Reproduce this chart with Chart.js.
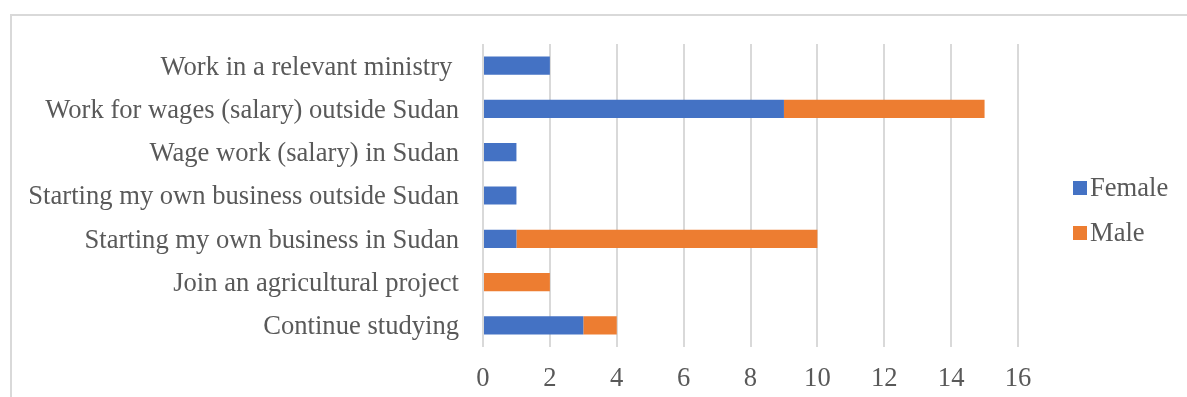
<!DOCTYPE html>
<html>
<head>
<meta charset="utf-8">
<script src="https://cdn.jsdelivr.net/npm/chart.js@4"></script>
<style>
    html, body { margin: 0; padding: 0; background: #fff; }
    .wrap { position: relative; width: 1187px; height: 397px; overflow: hidden; }
    .frame { position: absolute; left: 10px; top: 14px; width: 1200px; height: 400px; border: 2px solid #d9d9d9; box-sizing: border-box; }
    canvas { position: absolute; left: 0; top: 0; }
</style>
</head>
<body>
<div class="wrap">
    <div class="frame"></div>
    <canvas id="bar-chart" width="1187" height="397"></canvas>
</div>
<script>
const categories = [
    "Work in a relevant ministry ",
    "Work for wages (salary) outside Sudan",
    "Wage work (salary) in Sudan",
    "Starting my own business outside Sudan",
    "Starting my own business in Sudan",
    "Join an agricultural project",
    "Continue studying",
];
const female = [2, 9, 1, 1, 1, 0, 3];
const male = [0, 6, 0, 0, 9, 2, 1];
const xTicks = [0, 2, 4, 6, 8, 10, 12, 14, 16];

const textColor = "#595959";
const fontFamily = "'Liberation Serif', 'Times New Roman', serif";
const fontSize = 26.6;

// legend on the right, drawn from the datasets
const sideLegend = {
    id: "sideLegend",
    afterDraw(chart) {
        const ctx = chart.ctx;
        const x = chart.chartArea.right + 55;
        ctx.save();
        ctx.font = fontSize + "px " + fontFamily;
        ctx.textBaseline = "middle";
        ctx.textAlign = "left";
        chart.data.datasets.forEach((ds, i) => {
            const cy = 188 + i * 45;
            ctx.fillStyle = ds.backgroundColor;
            ctx.fillRect(x, cy - 7, 14, 14);
            ctx.fillStyle = textColor;
            ctx.fillText(ds.label, x + 17, cy + 1);
        });
        ctx.restore();
    },
};

document.addEventListener("DOMContentLoaded", function () {
    const ctx = document.getElementById("bar-chart").getContext("2d");

    new Chart(ctx, {
        type: "bar",
        data: {
            labels: categories,
            datasets: [
                { label: "Female", data: female, backgroundColor: "#4472C4" },
                { label: "Male", data: male, backgroundColor: "#ED7D31" },
            ],
        },
        options: {
            indexAxis: "y",
            responsive: false,
            animation: false,
            categoryPercentage: 0.42,
            barPercentage: 1,
            layout: { padding: { top: 44, right: 169, left: 0, bottom: 0 } },
            plugins: {
                legend: { display: false },
                tooltip: { enabled: false },
            },
            scales: {
                x: {
                    stacked: true,
                    min: 0,
                    max: 16,
                    afterBuildTicks(scale) {
                        scale.ticks = xTicks.map((v) => ({ value: v }));
                    },
                    afterFit(scale) {
                        scale.height = 50;
                    },
                    grid: { color: "#d9d9d9", lineWidth: 2, drawTicks: false },
                    border: { display: false },
                    ticks: {
                        padding: 16,
                        color: textColor,
                        font: { family: fontFamily, size: fontSize },
                    },
                },
                y: {
                    stacked: true,
                    afterFit(scale) {
                        scale.width = 483;
                    },
                    grid: { display: false },
                    border: { display: false },
                    ticks: {
                        padding: 16,
                        labelOffset: 2,
                        color: textColor,
                        font: { family: fontFamily, size: fontSize },
                    },
                },
            },
        },
        plugins: [sideLegend],
    });
});
</script>
</body>
</html>
